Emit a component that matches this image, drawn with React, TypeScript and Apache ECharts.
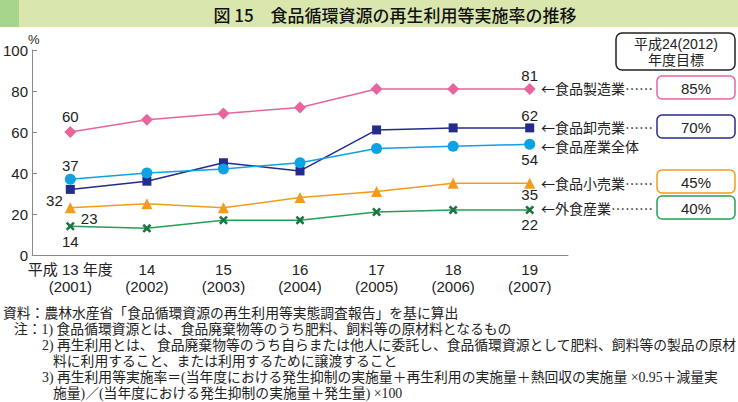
import React, { useEffect, useRef } from "react";
import * as echarts from "echarts";

const years = [
  "平成 13 年度\n(2001)",
  "14\n(2002)",
  "15\n(2003)",
  "16\n(2004)",
  "17\n(2005)",
  "18\n(2006)",
  "19\n(2007)",
];
const manufacturing = [60, 66, 69, 72, 81, 81, 81];
const wholesale = [32, 36, 45, 41, 61, 62, 62];
const overall = [37, 40, 42, 45, 52, 53, 54];
const retail = [23, 25, 23, 28, 31, 35, 35];
const foodService = [14, 13, 17, 17, 21, 22, 22];

const yTicks = [0, 20, 40, 60, 80, 100];

const targets = [
  { name: "←食品製造業……", goal: "85%", color: "#e8649f" },
  { name: "←食品卸売業……", goal: "70%", color: "#232c8c" },
  { name: "←食品産業全体", goal: "", color: "#0ea1e4" },
  { name: "←食品小売業……", goal: "45%", color: "#f39c1b" },
  { name: "←外食産業………", goal: "40%", color: "#23a055" },
];

const notes = [
  "資料：農林水産省「食品循環資源の再生利用等実態調査報告」を基に算出",
  "注：1) 食品循環資源とは、食品廃棄物等のうち肥料、飼料等の原材料となるもの",
  "2) 再生利用とは、 食品廃棄物等のうち自らまたは他人に委託し、食品循環資源として肥料、飼料等の製品の原材",
  "料に利用すること、または利用するために譲渡すること",
  "3) 再生利用等実施率＝(当年度における発生抑制の実施量＋再生利用の実施量＋熱回収の実施量 ×0.95＋減量実",
  "施量)／(当年度における発生抑制の実施量＋発生量) ×100",
];

const SANS = "'Liberation Sans', Arial, 'Noto Sans CJK JP', sans-serif";
const CJK = "'Noto Sans CJK JP', sans-serif";
const SERIF = "'Liberation Serif', 'Noto Sans CJK JP', serif";

const labelText = { fontSize: 15, color: "#222", fontFamily: SANS };

function withLabels(values: number[], cfg: Record<number, any>) {
  return values.map((v, i) =>
    cfg[i] ? { value: v, label: { show: true, ...labelText, ...cfg[i] } } : v
  );
}

const XMARK =
  "path://M2,0 L5,3 L8,0 L10,2 L7,5 L10,8 L8,10 L5,7 L2,10 L0,8 L3,5 L0,2 Z";

export default function App() {
  const ref = useRef<HTMLDivElement>(null);
  useEffect(() => {
    if (!ref.current) return;
    const chart = echarts.init(ref.current, null, { renderer: "svg" });

    const targetY = [88, 127, 146, 183, 208];
    const boxY = [76, 115, 0, 170, 196];
    const graphics: any[] = [
      { type: "rect", shape: { x: 0, y: 0, width: 738, height: 27 }, style: { fill: "#d9e7ae" } },
      { type: "rect", shape: { x: 0, y: 0, width: 19, height: 27 }, style: { fill: "#a8d58c" } },
      {
        type: "text",
        x: 395,
        y: 14,
        style: {
          text: "図 15　食品循環資源の再生利用等実施率の推移",
          fontSize: 17,
          fontWeight: 500,
          fontFamily: CJK,
          fill: "#111",
          align: "center",
          verticalAlign: "middle",
        },
      },
      {
        type: "text",
        x: 28,
        y: 39,
        style: { text: "%", fontSize: 13, fontFamily: SANS, fill: "#222", align: "left", verticalAlign: "middle" },
      },
      {
        type: "rect",
        shape: { x: 616, y: 33, width: 119, height: 37, r: 6 },
        style: { fill: "#fff", stroke: "#222", lineWidth: 1.5 },
      },
      {
        type: "text",
        x: 676,
        y: 44,
        style: { text: "平成24(2012)", fontSize: 14, fontFamily: SANS, fill: "#222", align: "center", verticalAlign: "middle" },
      },
      {
        type: "text",
        x: 676,
        y: 60,
        style: { text: "年度目標", fontSize: 14, fontFamily: SANS, fill: "#222", align: "center", verticalAlign: "middle" },
      },
    ];
    targets.forEach((t, i) => {
      graphics.push({
        type: "text",
        x: 541,
        y: targetY[i],
        style: {
          text: t.name,
          fontSize: 14,
          lineHeight: 15,
          fontFamily: CJK,
          fill: "#222",
          align: "left",
          verticalAlign: "middle",
        },
      });
      if (t.goal) {
        graphics.push({
          type: "rect",
          shape: { x: 657, y: boxY[i], width: 78, height: 23, r: 5 },
          style: { fill: "#fff", stroke: t.color, lineWidth: 1.5 },
        });
        graphics.push({
          type: "text",
          x: 696,
          y: boxY[i] + 12,
          style: { text: t.goal, fontSize: 15, fontFamily: SANS, fill: "#222", align: "center", verticalAlign: "middle" },
        });
      }
    });
    const noteX = [3, 14, 42, 53, 42, 53];
    const noteY = [313, 329, 345, 361, 377, 393];
    notes.forEach((n, i) => {
      graphics.push({
        type: "text",
        x: noteX[i],
        y: noteY[i],
        style: {
          text: n,
          fontSize: 13.8,
          fontFamily: SERIF,
          fill: "#222",
          align: "left",
          verticalAlign: "middle",
        },
      });
    });

    chart.setOption({
      animation: false,
      grid: { left: 32, right: 170, top: 50, bottom: 147 },
      xAxis: {
        type: "category",
        data: years,
        boundaryGap: true,
        axisLine: { lineStyle: { color: "#8a8a8a", width: 1 } },
        axisTick: { show: false },
        axisLabel: {
          fontSize: 15,
          color: "#222",
          fontFamily: SANS,
          lineHeight: 17,
          margin: 6,
          interval: 0,
        },
      },
      yAxis: {
        type: "value",
        min: yTicks[0],
        max: yTicks[yTicks.length - 1],
        interval: 20,
        axisLine: { show: true, lineStyle: { color: "#8a8a8a", width: 1 } },
        axisTick: { show: true, inside: true, length: 5, lineStyle: { color: "#8a8a8a" } },
        splitLine: { show: false },
        axisLabel: { fontSize: 15, color: "#222", fontFamily: SANS, margin: 4 },
      },
      series: [
        {
          name: "食品製造業",
          type: "line",
          data: withLabels(manufacturing, {
            0: { position: "top", distance: 2 },
            6: { position: "top", distance: 0 },
          }),
          symbol: "diamond",
          symbolSize: 12,
          lineStyle: { color: "#e8649f", width: 1.5 },
          itemStyle: { color: "#e8649f" },
        },
        {
          name: "食品卸売業",
          type: "line",
          data: withLabels(wholesale, {
            0: { position: "left", distance: 3, offset: [0, 11] },
            6: { position: "top", distance: 0 },
          }),
          symbol: "rect",
          symbolSize: 9,
          lineStyle: { color: "#232c8c", width: 1.5 },
          itemStyle: { color: "#232c8c" },
        },
        {
          name: "食品産業全体",
          type: "line",
          data: withLabels(overall, {
            0: { position: "top", distance: 1 },
            6: { position: "bottom", distance: 2 },
          }),
          symbol: "circle",
          symbolSize: 11,
          lineStyle: { color: "#0ea1e4", width: 1.5 },
          itemStyle: { color: "#0ea1e4" },
        },
        {
          name: "食品小売業",
          type: "line",
          data: withLabels(retail, {
            0: { position: "right", distance: 5, offset: [0, 11] },
            6: { position: "bottom", distance: 0, offset: [0, -2] },
          }),
          symbol: "triangle",
          symbolSize: 11,
          lineStyle: { color: "#f39c1b", width: 1.5 },
          itemStyle: { color: "#f39c1b" },
        },
        {
          name: "外食産業",
          type: "line",
          data: withLabels(foodService, {
            0: { position: "bottom", distance: 3 },
            6: { position: "bottom", distance: 3 },
          }),
          symbol: XMARK,
          symbolSize: 9,
          lineStyle: { color: "#23a055", width: 1.5 },
          itemStyle: { color: "#1b7543" },
        },
      ],
      graphic: graphics,
    });
    return () => chart.dispose();
  }, []);
  return (
    <div
      ref={ref}
      style={{ position: "fixed", left: 0, top: 0, width: 738, height: 402, background: "#fff" }}
    />
  );
}
